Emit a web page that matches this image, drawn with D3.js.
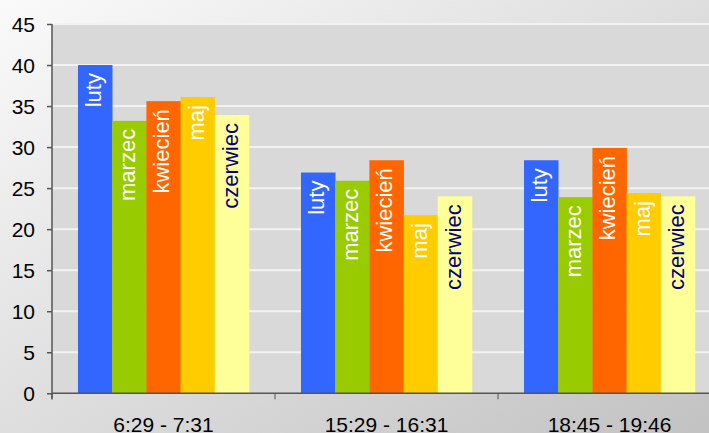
<!DOCTYPE html>
<html>
<head>
<meta charset="utf-8">
<script src="https://cdn.jsdelivr.net/npm/d3@7"></script>
<style>
body{margin:0;overflow:hidden}
text{font-family:"Liberation Sans",Arial,sans-serif}
</style>
</head>
<body>
<div id="chart"></div>
<script>
const categories=["6:29 - 7:31","15:29 - 16:31","18:45 - 19:46"]
const months=["luty","marzec","kwiecień","maj","czerwiec"]
const luty=[40.0,26.9,28.4]
const marzec=[33.2,25.9,23.9]
const kwiecien=[35.6,28.4,29.9]
const maj=[36.1,21.7,24.4]
const czerwiec=[33.9,24.0,24.0]
const yTicks=[0,5,10,15,20,25,30,35,40,45]

const seriesValues=[luty,marzec,kwiecien,maj,czerwiec]
const colors=["#3366FF","#99CC00","#FF6600","#FFCC00","#FFFF99"]
const labelColors=["#fff","#fff","#fff","#fff","#000080"]

const width=709
const height=433
const plotLeft=52
const plotTop=24
const plotBottom=393.3
const plotRight=721

const svg=d3.select("#chart")
.append("svg")
.attr("width",width)
.attr("height",height)

const defs=svg.append("defs")
const grad=defs.append("linearGradient")
.attr("id","bg")
.attr("x1","0").attr("y1","0").attr("x2","1").attr("y2","1")
grad.append("stop").attr("offset","0%").attr("stop-color","#fafafa")
grad.append("stop").attr("offset","100%").attr("stop-color","#c2c2c2")

svg.append("rect")
.attr("width",width)
.attr("height",height)
.attr("fill","url(#bg)")

const y=d3.scaleLinear().domain([0,45]).range([plotBottom,plotTop])
const x0=d3.scaleBand().domain(categories).range([plotLeft,plotRight])
const x1=d3.scaleBand().domain(months).range([0,x0.bandwidth()]).paddingInner(0).paddingOuter(0.76)

// plot area
svg.append("rect")
.attr("x",plotLeft)
.attr("y",plotTop)
.attr("width",plotRight-plotLeft)
.attr("height",plotBottom-plotTop)
.attr("fill","#d9d9d9")

// gridlines
svg.selectAll(".grid")
.data(yTicks.filter(d=>d>0))
.enter()
.append("line")
.attr("x1",plotLeft)
.attr("x2",plotRight)
.attr("y1",d=>y(d))
.attr("y2",d=>y(d))
.attr("stroke","#f2f2f2")
.attr("stroke-width",2)

// bars
const rows=[]
categories.forEach((c,i)=>{
months.forEach((m,j)=>{
rows.push({cat:c,month:m,value:seriesValues[j][i],j:j})
})
})

svg.selectAll(".bar")
.data(rows)
.enter()
.append("rect")
.attr("x",d=>x0(d.cat)+x1(d.month))
.attr("y",d=>y(d.value))
.attr("width",x1.bandwidth()+0.3)
.attr("height",d=>plotBottom-y(d.value))
.attr("fill",d=>colors[d.j])

svg.selectAll(".lbl")
.data(rows)
.enter()
.append("text")
.attr("transform",d=>"translate("+(x0(d.cat)+x1(d.month)+x1.bandwidth()/2)+","+(y(d.value)+8)+") rotate(-90)")
.attr("text-anchor","end")
.attr("dy","0.27em")
.attr("font-size","22px")
.attr("fill",d=>labelColors[d.j])
.text(d=>d.month)

// axes
const yAxis=svg.append("g")
.attr("transform","translate("+plotLeft+",0)")
.call(d3.axisLeft(y).tickValues(yTicks).tickSize(5).tickPadding(12))
yAxis.select(".domain").attr("d","M0,"+plotTop+"V"+(plotBottom+6))
yAxis.selectAll("text").attr("font-size","21px").attr("fill","#000").attr("dy","0.36em")

const xAxis=svg.append("g")
.attr("transform","translate(0,"+plotBottom+")")
.call(d3.axisBottom(x0).tickSize(0).tickPadding(24))
xAxis.selectAll("text").attr("font-size","21px").attr("fill","#000")
xAxis.select(".domain").attr("d","M"+plotLeft+",0H"+plotRight)

svg.selectAll(".xt")
.data(categories.concat([null]))
.enter()
.append("line")
.attr("x1",(d,i)=>plotLeft+i*x0.step())
.attr("x2",(d,i)=>plotLeft+i*x0.step())
.attr("y1",plotBottom)
.attr("y2",plotBottom+6)
.attr("stroke","#555")

svg.selectAll(".domain,.tick line").attr("stroke","#555").attr("stroke-width",1.5)
</script>
</body>
</html>
